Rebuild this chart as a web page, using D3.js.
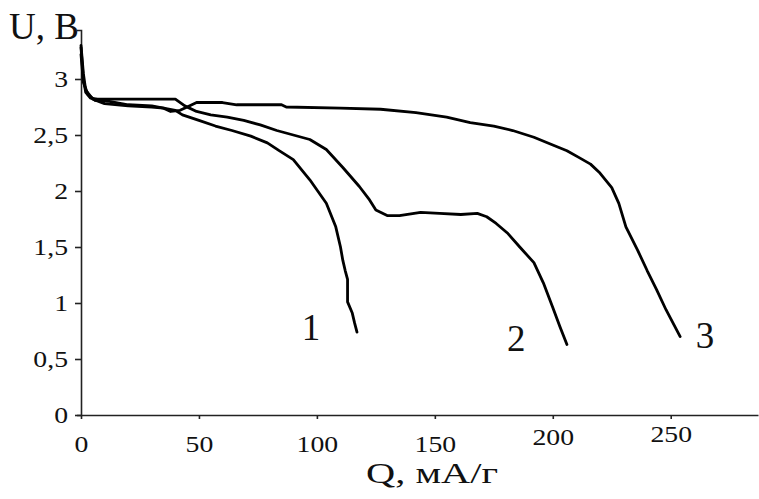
<!DOCTYPE html>
<html><head><meta charset="utf-8">
<script src="https://cdn.jsdelivr.net/npm/d3@7/dist/d3.min.js"></script>
<style>
body{margin:0;background:#fff;}
svg{display:block;}
text{font-family:"Liberation Serif","Times New Roman",serif;fill:#111;}
</style></head>
<body><svg id="c" width="759" height="499"></svg>
<script>
// ---- data ----
const Q1 = [0,1,3,6,12,20,30,35,40,43,50,57,64,72,79,84,90,97,104,108,110,111,112,113,113,115,116,117];
const U1 = [3.22,2.97,2.86,2.81,2.80,2.77,2.76,2.74,2.72,2.68,2.63,2.58,2.54,2.49,2.43,2.36,2.28,2.10,1.89,1.68,1.50,1.38,1.29,1.21,1.01,0.91,0.82,0.74];

const Q2 = [0,1,2,4,7,20,30,40,44,49,55,62,69,76,83,90,97,104,111,118,122,125,130,135,144,152,161,168,172,176,181,186,192,196,200,203,206];
const U2 = [3.28,3.00,2.88,2.83,2.82,2.82,2.82,2.82,2.76,2.71,2.68,2.66,2.63,2.59,2.54,2.50,2.46,2.37,2.21,2.04,1.93,1.83,1.78,1.78,1.81,1.80,1.79,1.80,1.77,1.71,1.62,1.50,1.36,1.18,0.96,0.79,0.63];

const Q3 = [0,1,2,5,10,20,30,35,38,42,45,49,60,66,85,87,110,127,142,155,165,175,183,192,200,206,211,216,220,225,228,231,236,240,244,248,251,254];
const U3 = [3.30,3.05,2.90,2.82,2.78,2.76,2.75,2.74,2.71,2.72,2.75,2.79,2.79,2.77,2.77,2.75,2.74,2.73,2.70,2.66,2.61,2.58,2.54,2.48,2.41,2.36,2.30,2.24,2.16,2.03,1.89,1.68,1.47,1.29,1.12,0.94,0.82,0.70];

const curveNames = ["1","2","3"];
const labelQ = [97.5, 184.5, 264.5];
const labelU = [0.67, 0.57, 0.60];

const xTicks = [0,50,100,150,200,250];
const yTicks = [0,0.5,1,1.5,2,2.5,3];
const xTitle = "Q, мА/г";
const yTitle = "U, В";

// ---- chart ----
const svg = d3.select("#c");
const x = d3.scaleLinear().domain([0, 287]).range([81, 758]);
const y = d3.scaleLinear().domain([0, 3.4375]).range([415, 30]);

const fmt = v => String(v).replace(".", ",");

function stretch(sel, k){
  sel.each(function(){
    const w = this.getComputedTextLength();
    d3.select(this).attr("textLength", w * k).attr("lengthAdjust", "spacingAndGlyphs");
  });
}

// y axis
const gy = svg.append("g").attr("transform", "translate(81,0)")
  .call(d3.axisLeft(y).tickValues(yTicks).tickFormat(fmt).tickSize(6).tickSizeOuter(4).tickPadding(7));
gy.attr("font-family", null);
gy.selectAll("path,line").attr("stroke", "#222").attr("stroke-width", 1.6);
gy.selectAll("text").attr("font-size", 23.5).attr("fill", "#111").attr("dy", "0.33em");
stretch(gy.selectAll("text"), 1.18);

// x axis
const xOff = {200: -7, 250: -10};
const gx = svg.append("g").attr("transform", "translate(0,415)")
  .call(d3.axisBottom(x).tickValues(xTicks).tickFormat(fmt).tickSize(4).tickSizeOuter(0));
gx.attr("font-family", null);
gx.selectAll("path,line").attr("stroke", "#222").attr("stroke-width", 1.6);
gx.selectAll("text").attr("font-size", 23.5).attr("fill", "#111")
  .attr("y", 0).attr("dy", d => (37 + (xOff[d] || 0)) + "px");
stretch(gx.selectAll("text"), 1.18);

// curves
const series = [[Q1,U1],[Q2,U2],[Q3,U3]];
const line = d3.line().x(d => x(d[0])).y(d => y(d[1]));
svg.append("g").selectAll("path").data(series).join("path")
  .attr("d", s => line(d3.zip(s[0], s[1])))
  .attr("fill", "none").attr("stroke", "#000").attr("stroke-width", 2.8)
  .attr("stroke-linejoin", "round").attr("stroke-linecap", "round");

// curve labels
svg.append("g").selectAll("text").data(curveNames).join("text")
  .attr("x", (d,i) => x(labelQ[i])).attr("y", (d,i) => y(labelU[i]))
  .attr("text-anchor", "middle").attr("font-size", 37).text(d => d);

// axis titles
svg.append("text").attr("x", 9).attr("y", 39).attr("font-size", 37).text(yTitle);
const xt = svg.append("text").attr("x", 366).attr("y", 483).attr("font-size", 29).text(xTitle);
xt.attr("textLength", 132).attr("lengthAdjust", "spacingAndGlyphs");
</script>
</body></html>
